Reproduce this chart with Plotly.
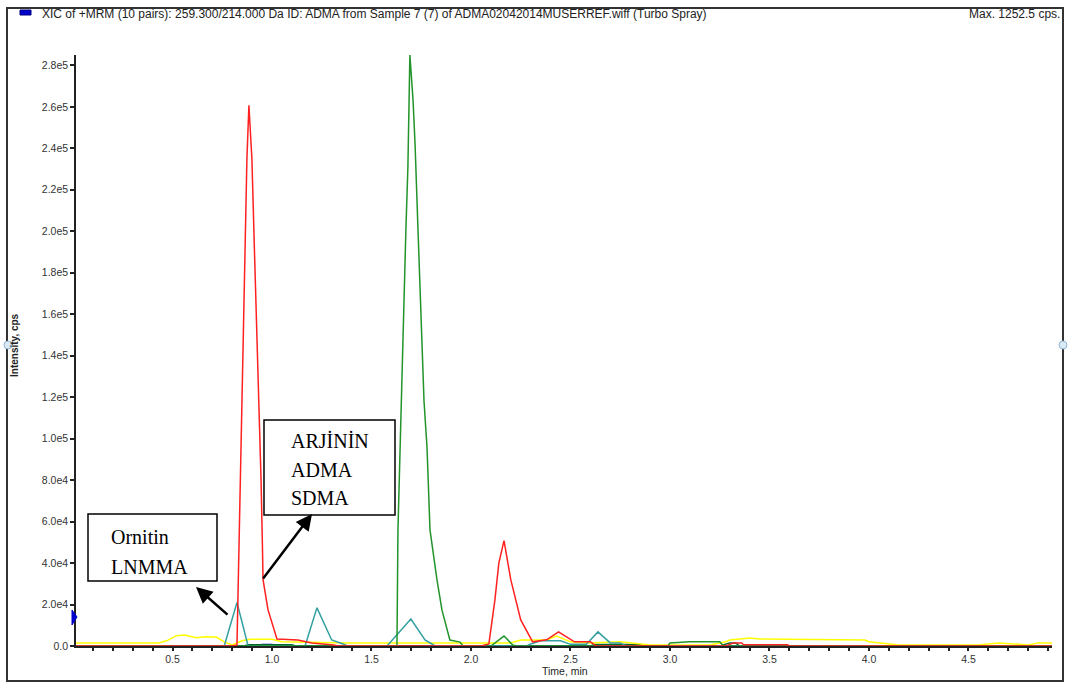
import plotly.graph_objects as go

# ---------------- data (time in min, intensity in cps) ----------------
red_t = [0.0, 0.80, 0.824, 0.849, 0.859, 0.874, 0.884, 0.899, 0.912, 0.925, 0.945, 0.952, 0.955, 0.98, 1.025, 1.13, 1.2, 1.31, 1.33,
         2.05, 2.09, 2.12, 2.14, 2.166, 2.2, 2.25, 2.31, 2.38, 2.44, 2.52, 2.6, 2.63, 3.28, 3.32, 3.36, 3.37, 3.59, 3.6, 4.92]
red_v = [0, 0, 500, 1.19e5, 1.77e5, 2.35e5, 2.607e5, 2.35e5, 1.9e5, 1.48e5, 8.0e4, 4.8e4, 3.2e4, 1.74e4, 3.4e3, 2.9e3, 1.5e3, 500, 0,
         0, 1000, 2.2e4, 4.0e4, 5.08e4, 3.2e4, 1.26e4, 2.0e3, 3.0e3, 6.8e3, 2.0e3, 2.0e3, 0, 0, 1500, 1500, 600, 600, 0, 0]

green_t = [0.0, 1.62, 1.628, 1.633, 1.648, 1.663, 1.673, 1.683, 1.688, 1.693, 1.709, 1.719, 1.734, 1.749, 1.764, 1.779, 1.794, 1.829, 1.854,
           1.894, 1.945, 1.96, 2.10, 2.166, 2.21, 2.23, 2.99, 3.0, 3.1, 3.25, 3.27, 4.92]
green_v = [0, 0, 0, 5.6e4, 1.13e5, 1.72e5, 2.01e5, 2.31e5, 2.61e5, 2.85e5, 2.63e5, 2.42e5, 2.0e5, 1.59e5, 1.18e5, 9.6e4, 5.6e4, 3.2e4, 1.74e4,
           2.9e3, 1.9e3, 0, 0, 4.8e3, 500, 0, 0, 1500, 2000, 2000, 0, 0]

teal_t = [0.0, 0.76, 0.824, 0.88, 0.9, 1.166, 1.226, 1.30, 1.357, 1.38, 1.578, 1.698, 1.769, 1.82, 2.28, 2.3, 2.35, 2.45, 2.5, 2.58,
          2.638, 2.7, 2.75, 2.78, 4.92]
teal_v = [0, 0, 2.1e4, 0, 0, 0, 1.84e4, 2.9e3, 1.0e3, 0, 0, 1.3e4, 2.9e3, 0, 0, 1000, 2500, 2500, 800, 800,
          6.8e3, 1500, 1500, 0, 0]

yellow_t = [0.015, 0.43, 0.47, 0.52, 0.56, 0.62, 0.66, 0.72, 0.76, 0.80, 0.85, 0.89, 1.0, 1.05, 1.4, 2.2, 2.25, 2.38, 2.43, 2.5, 2.6,
            2.75, 2.9, 3.2, 3.28, 3.3, 3.4, 3.45, 3.98, 4.0, 4.15, 4.55, 4.65, 4.8, 4.85, 4.9, 4.92]
yellow_v = [1500, 1500, 2500, 5000, 5300, 4000, 4500, 4300, 2000, 500, 2500, 3200, 3200, 2000, 1500, 1500, 2900, 2900, 4800, 2000, 1500,
            2000, 500, 500, 2000, 2900, 3900, 3400, 2900, 2000, 500, 500, 1500, 500, 1500, 1500, 1500]

blue_t = [0.0, 0.93, 0.95, 1.0, 1.02, 4.92]
blue_v = [0, 0, 700, 700, 0, 0]

dkgreen_t = [0.0, 0.86, 0.88, 1.1, 1.12, 2.6, 2.62, 2.85, 2.87, 3.25, 3.3, 3.33, 3.35, 4.92]
dkgreen_v = [0, 0, 600, 600, 0, 0, 700, 700, 0, 0, 1500, 1500, 0, 0]

y_tick_vals = [0, 2e4, 4e4, 6e4, 8e4, 1e5, 1.2e5, 1.4e5, 1.6e5, 1.8e5, 2.0e5, 2.2e5, 2.4e5, 2.6e5, 2.8e5]
y_tick_text = ["0.0", "2.0e4", "4.0e4", "6.0e4", "8.0e4", "1.0e5", "1.2e5", "1.4e5", "1.6e5", "1.8e5", "2.0e5",
               "2.2e5", "2.4e5", "2.6e5", "2.8e5"]
x_tick_vals = [round(0.1 * i, 1) for i in range(1, 50)]
x_tick_text = [("%.1f" % v) if abs(v * 2 - round(v * 2)) < 1e-6 else "" for v in x_tick_vals]

title_text = "XIC of +MRM (10 pairs): 259.300/214.000 Da ID: ADMA from Sample 7 (7) of ADMA02042014MUSERREF.wiff (Turbo Spray)"
max_text = "Max. 1252.5 cps."
label1_lines = ["ARJİNİN", "ADMA", "SDMA"]
label2_lines = ["Ornitin", "LNMMA"]

# ---------------- layout geometry (pixels) ----------------
W, H = 1074, 685
L, R, T, B = 76, 1052, 55, 646


def px(x):
    return (x - L) / (R - L)


def py(y):
    return (B - y) / (B - T)


fig = go.Figure()
lw = 1.5
fig.add_trace(go.Scatter(x=blue_t, y=blue_v, mode="lines", line=dict(color="#0000cc", width=lw)))
fig.add_trace(go.Scatter(x=dkgreen_t, y=dkgreen_v, mode="lines", line=dict(color="#006633", width=lw)))
fig.add_trace(go.Scatter(x=yellow_t, y=yellow_v, mode="lines", line=dict(color="#ffff00", width=lw)))
fig.add_trace(go.Scatter(x=teal_t, y=teal_v, mode="lines", line=dict(color="#35a0a0", width=lw)))
fig.add_trace(go.Scatter(x=green_t, y=green_v, mode="lines", line=dict(color="#22942a", width=lw)))
fig.add_trace(go.Scatter(x=red_t, y=red_v, mode="lines", line=dict(color="#ff2020", width=lw)))

tick_font = dict(family="Liberation Sans, Arial", size=10.5, color="#333333")

fig.update_layout(
    width=W, height=H, autosize=False,
    margin=dict(l=L, r=W - R, t=T, b=H - B, pad=0),
    paper_bgcolor="white", plot_bgcolor="white",
    showlegend=False,
    xaxis=dict(range=[0.015, 4.92], showgrid=False, zeroline=False, showline=True, linecolor="#222", linewidth=1.5,
               ticks="outside", ticklen=3, tickcolor="#222", tickwidth=1.5,
               tickmode="array", tickvals=x_tick_vals, ticktext=x_tick_text, tickfont=tick_font),
    yaxis=dict(range=[0, 2.85e5], showgrid=False, zeroline=False, showline=True, linecolor="#222", linewidth=1.5,
               ticks="outside", ticklen=4, tickcolor="#222", tickwidth=1.5,
               tickmode="array", tickvals=y_tick_vals, ticktext=y_tick_text, tickfont=tick_font),
)

shapes = []
# outer frame
shapes.append(dict(type="rect", xref="paper", yref="paper", x0=px(7), x1=px(1063), y0=py(8), y1=py(681),
                   line=dict(color="#333", width=2), fillcolor="rgba(0,0,0,0)", layer="below"))
# blue square in title row
shapes.append(dict(type="rect", xref="paper", yref="paper", x0=px(20), x1=px(31), y0=py(10), y1=py(15),
                   line=dict(color="#000080", width=1), fillcolor="#0000cc"))
# blue marker at left axis
shapes.append(dict(type="path", xref="paper", yref="paper",
                   path="M %f,%f L %f,%f L %f,%f Z" % (px(72), py(610), px(77), py(617), px(72), py(625)),
                   line=dict(color="#0000cc", width=1), fillcolor="#0000cc"))
# small side handles
for xc in (8, 1063):
    shapes.append(dict(type="circle", xref="paper", yref="paper", x0=px(xc - 4), x1=px(xc + 4), y0=py(341), y1=py(349),
                       line=dict(color="#8fb6d8", width=1), fillcolor="#dbe9f5"))
# annotation boxes
shapes.append(dict(type="rect", xref="paper", yref="paper", x0=px(264), x1=px(395), y0=py(420), y1=py(515),
                   line=dict(color="black", width=1.5), fillcolor="white"))
shapes.append(dict(type="rect", xref="paper", yref="paper", x0=px(88), x1=px(217), y0=py(514), y1=py(581),
                   line=dict(color="black", width=1.5), fillcolor="white"))
fig.update_layout(shapes=shapes)

ann = []
ann.append(dict(x=px(40), y=py(14), xref="paper", yref="paper", xanchor="left", yanchor="middle", showarrow=False,
                text=title_text, font=dict(family="Liberation Sans, Arial", size=12, color="#222")))
ann.append(dict(x=px(1062), y=py(14), xref="paper", yref="paper", xanchor="right", yanchor="middle", showarrow=False,
                text=max_text, font=dict(family="Liberation Sans, Arial", size=12, color="#222")))
ann.append(dict(x=px(565), y=py(671), xref="paper", yref="paper", xanchor="center", yanchor="middle", showarrow=False,
                text="Time, min", font=dict(family="Liberation Sans, Arial", size=10.5, color="#222")))
ann.append(dict(x=px(14), y=py(345), xref="paper", yref="paper", xanchor="center", yanchor="middle", showarrow=False,
                text="<b>Intensity, cps</b>", textangle=-90, font=dict(family="Liberation Sans, Arial", size=10, color="#222")))
for i, s in enumerate(label1_lines):
    ann.append(dict(x=px(289), y=py(441 + 28.5 * i), xref="paper", yref="paper", xanchor="left", yanchor="middle",
                    showarrow=False, text=s, font=dict(family="Liberation Serif, Times New Roman", size=20, color="black")))
for i, s in enumerate(label2_lines):
    ann.append(dict(x=px(109), y=py(537 + 30 * i), xref="paper", yref="paper", xanchor="left", yanchor="middle",
                    showarrow=False, text=s, font=dict(family="Liberation Serif, Times New Roman", size=20, color="black")))
# arrows
ann.append(dict(x=px(312), y=py(514), xref="paper", yref="paper", ax=262 - 312, ay=580 - 514, axref="pixel", ayref="pixel",
                showarrow=True, arrowhead=2, arrowsize=1.3, arrowwidth=2.5, arrowcolor="black", text=""))
ann.append(dict(x=px(196), y=py(587), xref="paper", yref="paper", ax=229 - 196, ay=616 - 587, axref="pixel", ayref="pixel",
                showarrow=True, arrowhead=2, arrowsize=1.3, arrowwidth=2.5, arrowcolor="black", text=""))
fig.update_layout(annotations=ann)

fig.write_html("out.html")
